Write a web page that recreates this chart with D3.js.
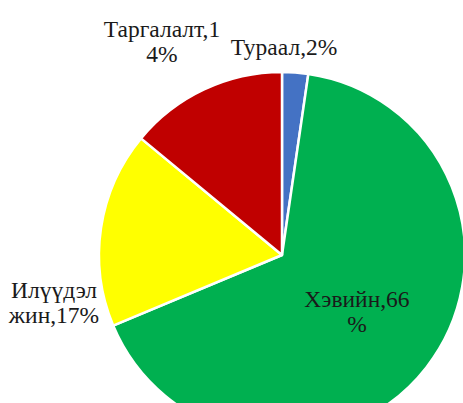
<html>
<head>
<meta charset='UTF-8'>
<script src="https://d3js.org/d3.v7.min.js"></script>
<style>
  body { margin: 0; background: white; }
  .label { font-family: 'Liberation Serif', 'Times New Roman', serif; font-size: 23.5px; fill: #1a1a1a; }
</style>
</head>
<body>
<svg id="pie" width="463" height="403"></svg>
<script>
  // data
  const categories = ['Тураал', 'Хэвийн', 'Илүүдэл жин', 'Таргалалт'];
  const values = [2.3, 66.4, 17.3, 14.0];
  const colors = ['#4472C4', '#00B050', '#FFFF00', '#C00000'];
  // label text lines as shown on the chart (wrapped like the original)
  const labelLines = [['Тураал,2%'], ['Хэвийн,66', '%'], ['Илүүдэл', 'жин,17%'], ['Таргалалт,1', '4%']];

  const svg = d3.select('#pie');
  const cx = 282, cy = 255, radius = 183;
  const g = svg.append('g').attr('transform', 'translate(' + cx + ',' + cy + ')');

  const pie = d3.pie().sort(null).value(d => d);
  const arc = d3.arc().innerRadius(0).outerRadius(radius);
  const arcs = pie(values);

  g.selectAll('path.slice').data(arcs)
   .join('path')
   .attr('class', 'slice')
   .attr('d', arc)
   .attr('fill', (d, i) => colors[i])
   .attr('stroke', 'white')
   .attr('stroke-width', 2.5)
   .attr('stroke-linejoin', 'round');

  // label placement (first baseline, relative to pie centre) - manual like the original
  const labelPos = [[2, -200], [75, 52], [-228, 43], [-120, -218]];
  const lineH = 25;

  labelLines.forEach((lines, i) => {
    const t = g.append('text').attr('class', 'label')
      .attr('text-anchor', 'middle')
      .attr('x', labelPos[i][0]).attr('y', labelPos[i][1]);
    lines.forEach((s, j) => {
      t.append('tspan').attr('x', labelPos[i][0]).attr('dy', j === 0 ? 0 : lineH).text(s);
    });
  });
</script>
</body>
</html>
